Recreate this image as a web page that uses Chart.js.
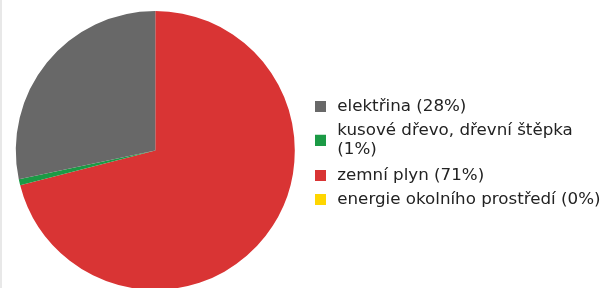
<!DOCTYPE html>
<html>
<head>
<meta charset="utf-8">
<script src="https://cdn.jsdelivr.net/npm/chart.js@4"></script>
<style>
    html, body { margin: 0; padding: 0; background: #fff; overflow: hidden; }
    #wrap { position: absolute; left: 0; top: 0; width: 611px; height: 290px; }
    #stripe { position: absolute; left: 0; top: 0; width: 2px; height: 288px; background: #e8e8e8; }
</style>
</head>
<body>
<div id="wrap"><canvas id="chart"></canvas></div>
<div id="stripe"></div>
<script>
// legend order
const categories = [
    'elektřina',
    'kusové dřevo, dřevní štěpka\n',
    'zemní plyn',
    'energie okolního prostředí'
];
const shares = [28.3, 0.7, 71.0, 0.0];
const colors = ['#686868', '#1b9a45', '#d93434', '#ffd600'];

chartApp = {

    fontSize: 16.7,
    lineHeight: 1.12,

    legendText: function (label, value) {
        // second line of a wrapped label takes the percentage
        const pct = '(' + Math.round(value) + '%)';
        if (label.endsWith('\n')) {
            return ['\u2009' + label.trim(), '\u2009' + pct];
        }
        return '\u2009' + label + ' ' + pct;
    },

    // square marker; for two-line items it is pushed down between the lines
    legendBox: function (color, lines) {
        const size = 11;
        const shift = Math.round((lines - 1) * this.fontSize * this.lineHeight);
        const c = document.createElement('canvas');
        c.width = size;
        c.height = size + shift;
        const ctx = c.getContext('2d');
        ctx.fillStyle = color;
        ctx.fillRect(0, shift, size, size);
        return c;
    },

    initSharesChart: function (chartElement) {
        // pie runs counter-clockwise in the reference, so feed it reversed
        const labels = categories.slice().reverse();
        const values = shares.slice().reverse();
        const bg = colors.slice().reverse();

        const data = {
            labels: labels,
            datasets: [{
                data: values,
                backgroundColor: bg,
                borderWidth: 0
            }]
        };

        const chartConfig = {
            type: 'pie',
            data: data,
            options: {
                responsive: true,
                maintainAspectRatio: false,
                animation: false,
                layout: {
                    padding: { left: 3.3, right: 0.5, top: 11, bottom: 0 }
                },
                plugins: {
                    tooltip: { enabled: false },
                    legend: {
                        position: 'right',
                        reverse: true,
                        // empty title only nudges the items down a little
                        title: { display: true, text: ' ', font: { size: 1 }, padding: { top: 4, bottom: 0 } },
                        labels: {
                            boxWidth: 11,
                            boxHeight: 11,
                            usePointStyle: true,
                            padding: 7.3,
                            color: '#222',
                            font: { family: 'DejaVu Sans', size: this.fontSize, lineHeight: this.lineHeight },
                            generateLabels: (chart) => {
                                const ds = chart.data.datasets[0];
                                return chart.data.labels.map((label, i) => {
                                    const text = this.legendText(label, ds.data[i]);
                                    const lines = Array.isArray(text) ? text.length : 1;
                                    return {
                                        text: text,
                                        fillStyle: ds.backgroundColor[i],
                                        strokeStyle: ds.backgroundColor[i],
                                        pointStyle: this.legendBox(ds.backgroundColor[i], lines),
                                        lineWidth: 0,
                                        fontColor: '#222',
                                        hidden: false,
                                        index: i
                                    };
                                });
                            }
                        }
                    }
                }
            }
        };

        const myChart = new Chart(chartElement, chartConfig);
    }
};

chartApp.initSharesChart(document.getElementById('chart'));
</script>
</body>
</html>
